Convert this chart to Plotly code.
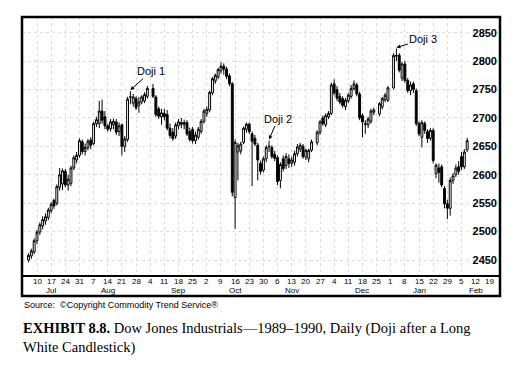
import numpy as np
import plotly.graph_objects as go

# ---------------- data ----------------
dates = [
    "1989-07-05", "1989-07-06", "1989-07-07",
    "1989-07-10", "1989-07-11", "1989-07-12", "1989-07-13", "1989-07-14",
    "1989-07-17", "1989-07-18", "1989-07-19", "1989-07-20", "1989-07-21",
    "1989-07-24", "1989-07-25", "1989-07-26", "1989-07-27", "1989-07-28",
    "1989-07-31", "1989-08-01", "1989-08-02", "1989-08-03", "1989-08-04",
    "1989-08-07", "1989-08-08", "1989-08-09", "1989-08-10", "1989-08-11",
    "1989-08-14", "1989-08-15", "1989-08-16", "1989-08-17", "1989-08-18",
    "1989-08-21", "1989-08-22", "1989-08-23", "1989-08-24", "1989-08-25",
    "1989-08-28", "1989-08-29", "1989-08-30", "1989-08-31", "1989-09-01",
    "1989-09-05", "1989-09-06", "1989-09-07", "1989-09-08",
    "1989-09-11", "1989-09-12", "1989-09-13", "1989-09-14", "1989-09-15",
    "1989-09-18", "1989-09-19", "1989-09-20", "1989-09-21", "1989-09-22",
    "1989-09-25", "1989-09-26", "1989-09-27", "1989-09-28", "1989-09-29",
    "1989-10-02", "1989-10-03", "1989-10-04", "1989-10-05", "1989-10-06",
    "1989-10-09", "1989-10-10", "1989-10-11", "1989-10-12", "1989-10-13",
    "1989-10-16", "1989-10-17", "1989-10-18", "1989-10-19", "1989-10-20",
    "1989-10-23", "1989-10-24", "1989-10-25", "1989-10-26", "1989-10-27",
    "1989-10-30", "1989-10-31", "1989-11-01", "1989-11-02", "1989-11-03",
    "1989-11-06", "1989-11-07", "1989-11-08", "1989-11-09", "1989-11-10",
    "1989-11-13", "1989-11-14", "1989-11-15", "1989-11-16", "1989-11-17",
    "1989-11-20", "1989-11-21", "1989-11-22", "1989-11-24",
    "1989-11-27", "1989-11-28", "1989-11-29", "1989-11-30", "1989-12-01",
    "1989-12-04", "1989-12-05", "1989-12-06", "1989-12-07", "1989-12-08",
    "1989-12-11", "1989-12-12", "1989-12-13", "1989-12-14", "1989-12-15",
    "1989-12-18", "1989-12-19", "1989-12-20", "1989-12-21", "1989-12-22",
    "1989-12-26", "1989-12-27", "1989-12-28", "1989-12-29",
    "1990-01-02", "1990-01-03", "1990-01-04", "1990-01-05",
    "1990-01-08", "1990-01-09", "1990-01-10", "1990-01-11", "1990-01-12",
    "1990-01-15", "1990-01-16", "1990-01-17", "1990-01-18", "1990-01-19",
    "1990-01-22", "1990-01-23", "1990-01-24", "1990-01-25", "1990-01-26",
    "1990-01-29", "1990-01-30", "1990-01-31", "1990-02-01", "1990-02-02",
    "1990-02-05", "1990-02-06", "1990-02-07",
]

opens = [
    2450, 2457, 2464,
    2484, 2499, 2510, 2519, 2525,
    2537, 2555, 2550, 2578, 2584,
    2606, 2582, 2585, 2612, 2626,
    2634, 2658, 2641, 2648, 2661,
    2655, 2690, 2690, 2712, 2702,
    2686, 2681, 2688, 2693, 2676,
    2688, 2650, 2662, 2736, 2726,
    2734, 2722, 2728, 2730, 2738,
    2752, 2737, 2716, 2702,
    2708, 2706, 2682, 2675, 2668,
    2686, 2692, 2688, 2692, 2676,
    2680, 2660, 2666, 2676, 2694,
    2708, 2714, 2744, 2765, 2772,
    2783, 2791, 2786, 2774, 2760,
    2560, 2640, 2642, 2657, 2680,
    2689, 2672, 2664, 2652, 2620,
    2608, 2628, 2649, 2648, 2636,
    2630, 2590, 2628, 2616, 2628,
    2620, 2622, 2637, 2645, 2650,
    2631, 2628, 2643, 2656,
    2675, 2700, 2688, 2702, 2708,
    2760, 2750, 2738, 2734, 2720,
    2730, 2738, 2752, 2758, 2742,
    2704, 2688, 2688, 2694, 2710,
    2707, 2719, 2732, 2731,
    2753, 2810, 2810, 2770,
    2795, 2766, 2748, 2760, 2748,
    2690, 2666, 2690, 2676, 2664,
    2678, 2602, 2612, 2614, 2576,
    2549, 2541, 2590, 2600, 2614,
    2632, 2614, 2644,
]

highs = [
    2462, 2470, 2488,
    2503, 2516, 2527, 2532, 2542,
    2552, 2558, 2583, 2612, 2611,
    2610, 2600, 2616, 2634, 2640,
    2664, 2662, 2655, 2663, 2666,
    2693, 2702, 2730, 2732, 2712,
    2690, 2698, 2699, 2698, 2692,
    2690, 2668, 2737, 2747, 2742,
    2738, 2737, 2740, 2745, 2756,
    2760, 2740, 2720, 2716,
    2716, 2714, 2690, 2682, 2692,
    2698, 2700, 2697, 2696, 2683,
    2684, 2676, 2684, 2698, 2716,
    2720, 2748, 2772, 2778, 2788,
    2798, 2796, 2790, 2778, 2763,
    2662, 2656, 2658, 2685, 2692,
    2692, 2676, 2670, 2656, 2625,
    2632, 2652, 2660, 2652, 2642,
    2634, 2622, 2634, 2638, 2636,
    2632, 2642, 2654, 2656, 2654,
    2646, 2646, 2662, 2678,
    2696, 2704, 2708, 2712, 2762,
    2768, 2756, 2744, 2738, 2735,
    2744, 2758, 2766, 2762, 2746,
    2708, 2696, 2702, 2716, 2718,
    2728, 2737, 2744, 2756,
    2814, 2822, 2814, 2798,
    2800, 2770, 2764, 2764, 2752,
    2694, 2696, 2694, 2680, 2682,
    2682, 2620, 2620, 2618, 2580,
    2556, 2595, 2603, 2618, 2624,
    2640, 2645, 2665,
]

lows = [
    2446, 2452, 2460,
    2478, 2494, 2504, 2512, 2520,
    2532, 2540, 2546, 2572, 2573,
    2578, 2572, 2580, 2608, 2620,
    2630, 2636, 2634, 2643, 2645,
    2652, 2684, 2682, 2690, 2680,
    2676, 2676, 2680, 2670, 2668,
    2634, 2640, 2658, 2724, 2720,
    2714, 2709, 2724, 2726, 2734,
    2735, 2702, 2698, 2688,
    2696, 2678, 2664, 2660, 2663,
    2680, 2682, 2680, 2668, 2658,
    2655, 2654, 2662, 2672, 2690,
    2702, 2710, 2740, 2760, 2768,
    2778, 2776, 2768, 2756, 2562,
    2505, 2590, 2636, 2654, 2674,
    2672, 2580, 2650, 2590, 2600,
    2604, 2622, 2640, 2628, 2624,
    2582, 2576, 2606, 2610, 2612,
    2614, 2616, 2632, 2640, 2628,
    2626, 2622, 2640, 2652,
    2670, 2686, 2684, 2698, 2705,
    2740, 2730, 2724, 2718, 2714,
    2726, 2734, 2748, 2738, 2696,
    2666, 2672, 2682, 2690, 2705,
    2703, 2715, 2728, 2728,
    2750, 2800, 2780, 2765,
    2762, 2744, 2740, 2744, 2686,
    2668, 2648, 2672, 2656, 2660,
    2620, 2594, 2586, 2578, 2541,
    2522, 2528, 2584, 2596, 2600,
    2608, 2610, 2640,
]

closes = [
    2458, 2466, 2484,
    2499, 2512, 2521, 2526, 2538,
    2548, 2545, 2579, 2600, 2607,
    2582, 2592, 2612, 2630, 2634,
    2660, 2641, 2648, 2659, 2652,
    2690, 2697, 2712, 2696, 2686,
    2680, 2693, 2694, 2675, 2686,
    2650, 2663, 2733, 2737, 2737,
    2718, 2728, 2737, 2741, 2752,
    2738, 2706, 2703, 2709,
    2702, 2682, 2669, 2664, 2688,
    2693, 2689, 2692, 2672, 2662,
    2660, 2670, 2680, 2694, 2712,
    2715, 2745, 2769, 2775, 2785,
    2791, 2786, 2773, 2760, 2569,
    2657, 2651, 2654, 2682, 2689,
    2676, 2659, 2654, 2626, 2606,
    2628, 2648, 2650, 2632, 2629,
    2588, 2618, 2611, 2632, 2620,
    2626, 2637, 2649, 2652, 2632,
    2643, 2643, 2658, 2675,
    2693, 2690, 2704, 2708, 2758,
    2744, 2735, 2728, 2722, 2731,
    2740, 2752, 2760, 2742, 2700,
    2693, 2690, 2698, 2712, 2714,
    2725, 2734, 2740, 2753,
    2810, 2809, 2784, 2795,
    2766, 2748, 2758, 2750, 2690,
    2672, 2692, 2678, 2664, 2678,
    2625, 2617, 2604, 2582, 2549,
    2541, 2590, 2598, 2612, 2606,
    2614, 2640, 2660,
]

# weekly tick labels (Mondays)
tick_dates = [
    "1989-07-10", "1989-07-17", "1989-07-24", "1989-07-31", "1989-08-07",
    "1989-08-14", "1989-08-21", "1989-08-28", "1989-09-04", "1989-09-11",
    "1989-09-18", "1989-09-25", "1989-10-02", "1989-10-09", "1989-10-16",
    "1989-10-23", "1989-10-30", "1989-11-06", "1989-11-13", "1989-11-20",
    "1989-11-27", "1989-12-04", "1989-12-11", "1989-12-18", "1989-12-25",
    "1990-01-01", "1990-01-08", "1990-01-15", "1990-01-22", "1990-01-29",
    "1990-02-05", "1990-02-12", "1990-02-19",
]
tick_days = ["10", "17", "24", "31", "7", "14", "21", "28", "4", "11", "18", "25",
             "2", "9", "16", "23", "30", "6", "13", "20", "27", "4", "11", "18",
             "25", "1", "8", "15", "22", "29", "5", "12", "19"]
tick_months = ["", "Jul", "", "", "", "Aug", "", "", "", "", "Sep", "", "", "",
               "Oct", "", "", "", "Nov", "", "", "", "", "Dec", "", "", "",
               "Jan", "", "", "", "Feb", ""]

y_ticks = [2450, 2500, 2550, 2600, 2650, 2700, 2750, 2800, 2850]

doji_labels = ["Doji 1", "Doji 2", "Doji 3"]
doji_dates = ["1989-08-24", "1989-11-01", "1990-01-03"]

# ---------------- figure ----------------
base = "1989-07-10"
x = np.busday_count(base, dates)
tick_x = np.busday_count(base, tick_dates)

PLOT_H = 258  # pixel height of the price panel
SANS = "Arial, Liberation Sans, sans-serif"

fig = go.Figure()
fig.add_trace(go.Candlestick(
    x=x, open=opens, high=highs, low=lows, close=closes,
    increasing=dict(line=dict(color="black", width=1), fillcolor="white"),
    decreasing=dict(line=dict(color="black", width=1), fillcolor="black"),
    whiskerwidth=0, showlegend=False, hoverinfo="skip",
))

# date band labels (day on first line, month below)
for tx, dl, ml in zip(tick_x, tick_days, tick_months):
    fig.add_annotation(x=int(tx), xref="x", y=-6 / PLOT_H, yref="paper",
                       text=dl, showarrow=False, yanchor="middle",
                       font=dict(family=SANS, size=8, color="black"))
    if ml:
        fig.add_annotation(x=int(tx), xref="x", y=-15 / PLOT_H, yref="paper",
                           text=ml, showarrow=False, yanchor="middle",
                           font=dict(family=SANS, size=8, color="black"))

# annotations for the doji
offsets = [(21, -19), (9, -21), (27, -8)]
for lab, dd, (ax, ay) in zip(doji_labels, doji_dates, offsets):
    i = dates.index(dd)
    fig.add_annotation(
        x=int(x[i]), y=highs[i] + 2, text=lab, showarrow=True,
        ax=ax, ay=ay, arrowhead=2, arrowsize=0.8, arrowwidth=1,
        arrowcolor="black", standoff=0,
        font=dict(family=SANS, size=11, color="black"),
    )

# frame around plot + date band
band = -21 / PLOT_H
fig.add_shape(type="rect", xref="paper", yref="paper", x0=0, x1=1, y0=band, y1=1,
              line=dict(color="black", width=2.5), layer="above")

fig.add_annotation(xref="paper", yref="paper", x=0, y=-23 / PLOT_H, xanchor="left", yanchor="top",
                   showarrow=False, align="left",
                   text="Source:  \u00a9Copyright Commodity Trend Service\u00ae",
                   font=dict(family=SANS, size=9, color="black"))
fig.add_annotation(xref="paper", yref="paper", x=-0.002, y=-43 / PLOT_H, xanchor="left", yanchor="top",
                   showarrow=False, align="left",
                   text="<b>EXHIBIT 8.8.</b> Dow Jones Industrials\u20141989\u20131990, Daily (Doji after a Long<br>White Candlestick)",
                   font=dict(family="Liberation Serif, Times New Roman, serif", size=14.5, color="black"))

fig.update_layout(
    width=522, height=368,
    margin=dict(l=22, r=22, t=17, b=93),
    paper_bgcolor="white", plot_bgcolor="white",
    boxgap=0.05,
    xaxis=dict(
        range=[-5.3, 163.6], rangeslider=dict(visible=False),
        tickmode="array", tickvals=tick_x, showticklabels=False,
        ticks="", showline=True, linecolor="black", linewidth=1.5,
        showgrid=True, gridcolor="#dcdcdc", griddash="dot", gridwidth=1,
        zeroline=False, fixedrange=True,
    ),
    yaxis=dict(
        range=[2423.6, 2877.6], side="right", ticklabelposition="inside",
        tickmode="array", tickvals=y_ticks,
        tickfont=dict(family=SANS, size=11, color="black", weight="bold"),
        ticks="", showline=False,
        showgrid=True, gridcolor="#dcdcdc", griddash="dot", gridwidth=1,
        zeroline=False, fixedrange=True,
    ),
)

fig.write_html("out.html", config={"displayModeBar": False},
               post_script="document.body.style.margin='0';")
